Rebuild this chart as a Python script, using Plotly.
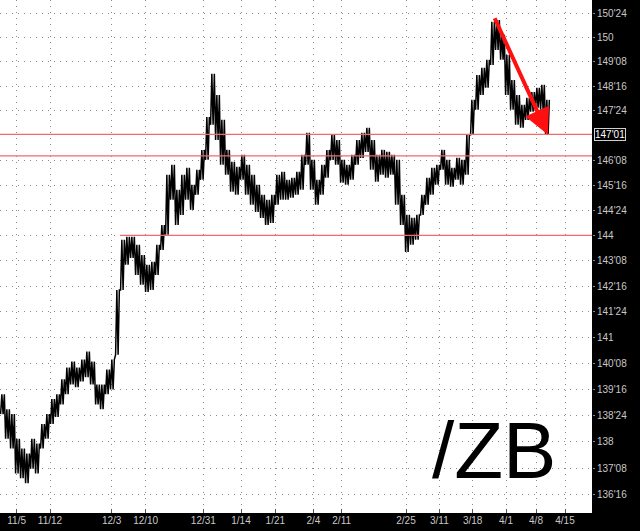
import math
import plotly.graph_objects as go

# Price bars (high / low), one bar per slot
bar_high = [139.36, 138.93, 138.79, 138.09, 137.81, 137.67, 138.09, 137.95, 138.51, 138.79,
            139.22, 139.36, 139.79, 140.13, 140.30, 140.13, 140.36, 140.59, 140.30, 139.64,
            139.64, 140.07, 140.36, 142.39, 143.87, 143.96, 143.96, 143.72, 143.42, 143.13,
            143.22, 143.72, 144.31, 145.81, 146.11, 145.36, 145.81, 146.02, 145.51, 145.96,
            146.56, 147.56, 148.88, 148.23, 147.47, 146.56, 146.20, 146.05, 146.41, 146.11,
            145.81, 145.51, 145.21, 145.06, 145.21, 145.81, 145.90, 145.66, 145.72, 145.90,
            146.41, 147.08, 146.26, 145.66, 146.11, 146.56, 147.02, 146.86, 146.26, 146.11,
            146.41, 146.86, 147.08, 147.23, 146.86, 146.41, 146.56, 146.50, 146.41, 146.26,
            145.21, 144.61, 144.52, 144.61, 145.21, 145.72, 146.02, 146.11, 146.56, 146.26,
            146.02, 146.32, 146.26, 147.02, 148.08, 148.84, 149.06, 149.31, 150.48, 150.54,
            150.08, 149.46, 148.69, 148.23, 147.93, 148.14, 148.32, 148.45, 148.54, 148.08]
bar_low = [138.79, 138.09, 137.81, 137.10, 136.97, 136.83, 137.24, 137.10, 137.81, 138.09,
           138.51, 138.71, 139.07, 139.36, 139.64, 139.56, 139.73, 139.85, 139.64, 139.07,
           138.93, 139.36, 139.50, 140.50, 142.39, 143.13, 143.33, 142.83, 142.54, 142.33,
           142.39, 142.83, 143.57, 144.02, 145.06, 144.31, 144.61, 145.06, 144.76, 145.21,
           145.66, 146.26, 147.32, 146.86, 146.11, 145.81, 145.30, 145.21, 145.66, 145.21,
           144.91, 144.70, 144.52, 144.31, 144.37, 144.91, 145.06, 145.06, 145.12, 145.21,
           145.36, 146.11, 145.36, 144.91, 145.21, 145.72, 146.26, 146.11, 145.57, 145.51,
           145.66, 146.11, 146.32, 146.50, 145.96, 145.60, 145.81, 145.72, 145.81, 144.91,
           144.31, 143.51, 143.72, 143.87, 144.61, 144.91, 145.21, 145.51, 145.96, 145.51,
           145.45, 145.66, 145.51, 145.81, 147.02, 147.78, 148.23, 148.45, 149.15, 149.61,
           149.31, 148.23, 147.78, 147.32, 147.23, 147.47, 147.72, 147.84, 147.78, 147.02]

# Date labels and the bar slot where each falls
date_labels = ["11/5", "11/12", "12/3", "12/10", "12/31", "1/14", "1/21", "2/4",
               "2/11", "2/25", "3/11", "3/18", "4/1", "4/8", "4/15"]
date_slots = [3.33, 10.0, 22.33, 29.13, 40.67, 48.2, 55.07, 62.67,
              68.33, 81.2, 87.87, 94.53, 101.2, 107.2, 113.0]

# Price ticks (32nds notation)
price_ticks = [150.75, 150.0, 149.25, 148.5, 147.75, 146.25, 145.5, 144.75, 144.0,
               143.25, 142.5, 141.75, 141.0, 140.25, 139.5, 138.75, 138.0, 137.25, 136.5]
price_labels = ["150'24", "150", "149'08", "148'16", "147'24", "146'08", "145'16", "144'24",
                "144", "143'08", "142'16", "141'24", "141", "140'08", "139'16", "138'24",
                "138", "137'08", "136'16"]

last_price = 147.03
last_label = "147'01"

# Support / resistance levels: (price, start slot)
levels = [(147.03, 0.0), (146.38, 0.0), (144.0, 24.0)]

# Arrow: from (slot, price) to (slot, price)
arrow_from = (98.8, 150.64)
arrow_to = (109.6, 147.02)

x_end = 118.4
y_lo, y_hi = 135.99, 151.16

# dense zigzag through each bar's low/high (two swings per bar)
px, py = [], []
for i, (h, l) in enumerate(zip(bar_high, bar_low)):
    for k, v in enumerate([l, h, l, h]):
        px.append(i + 0.12 + 0.25 * k)
        py.append(v)

fig = go.Figure()
fig.add_trace(go.Scatter(x=px, y=py, mode="lines",
                         line=dict(color="black", width=1.5), hoverinfo="skip",
                         showlegend=False))
for lvl, start in levels:
    fig.add_trace(go.Scatter(x=[start, x_end], y=[lvl, lvl], mode="lines",
                             line=dict(color="#f26b6b", width=1.2), hoverinfo="skip",
                             showlegend=False))

fig.add_annotation(x=arrow_to[0], y=math.log10(arrow_to[1]),
                   ax=arrow_from[0], ay=math.log10(arrow_from[1]),
                   xref="x", yref="y", axref="x", ayref="y",
                   showarrow=True, arrowhead=2, arrowsize=1.3, arrowwidth=4,
                   arrowcolor="#ff1010", text="")

fig.add_annotation(x=1.0, y=math.log10(last_price), xref="paper", yref="y",
                   xanchor="left", xshift=2, text=last_label, showarrow=False,
                   font=dict(color="white", size=10, family="Liberation Sans"),
                   bgcolor="black", bordercolor="#cfcfcf", borderwidth=1, borderpad=0)

fig.add_annotation(x=0.834, y=0.121, xref="paper", yref="paper", text="/ZB",
                   xanchor="center", yanchor="middle",
                   showarrow=False, font=dict(color="black", size=80,
                                              family="Liberation Sans"))

grid = dict(showgrid=True, gridcolor="#8a8a8a", griddash="1px,5px", gridwidth=1)

fig.update_layout(
    width=640, height=531,
    margin=dict(l=0, r=48, t=0, b=18),
    paper_bgcolor="black", plot_bgcolor="white",
    font=dict(family="Liberation Sans", size=10, color="#c8c8c8"),
    xaxis=dict(range=[0, x_end], tickmode="array", tickvals=date_slots,
               ticktext=date_labels, ticks="inside", ticklen=4, tickcolor="#555",
               zeroline=False, fixedrange=True, automargin=False, **grid),
    yaxis=dict(type="log", side="right", range=[math.log10(y_lo), math.log10(y_hi)],
               tickmode="array", tickvals=price_ticks, ticktext=price_labels,
               ticks="outside", ticklen=2, tickcolor="#888", automargin=False,
               zeroline=False, fixedrange=True, **grid),
)

fig.write_html("out.html",
               config={"displayModeBar": False, "staticPlot": True},
               post_script="document.body.style.margin='0px';"
                           "document.body.style.overflow='hidden';")
